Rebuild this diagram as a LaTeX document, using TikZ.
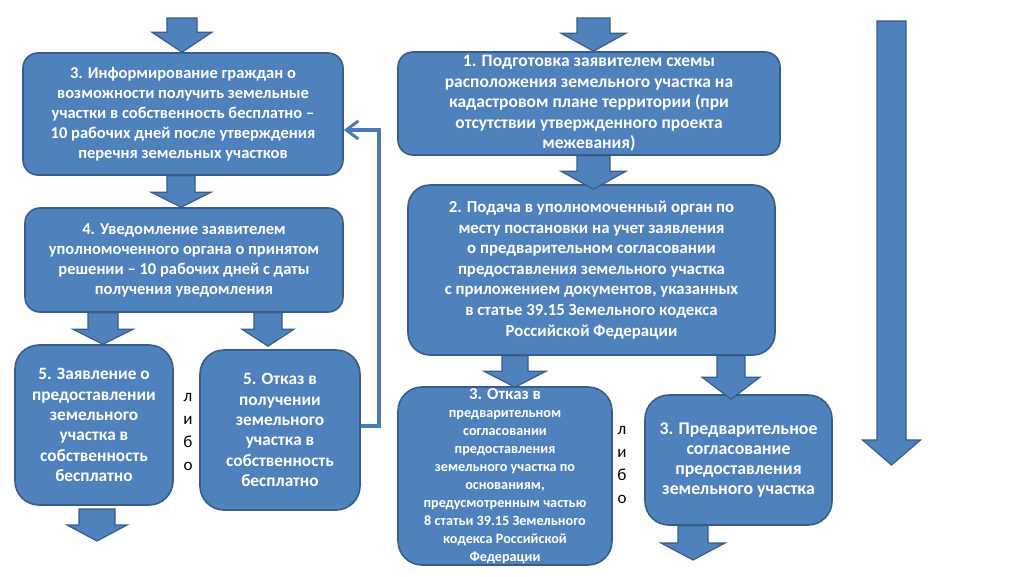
\documentclass[tikz,border=0pt]{standalone}
\usepackage{fontspec}
\setmainfont{Carlito}
\usetikzlibrary{arrows.meta,calc}
\definecolor{boxfill}{HTML}{4F81BD}
\definecolor{boxdraw}{HTML}{385D8A}
\definecolor{fbline}{HTML}{4A7BB7}
\newcommand\blockarrow[6]{%
  \draw[barrow] let \p1=#2, \p2=#3 in
    (#1pt-#4pt,\y1) -- (#1pt+#4pt,\y1) -- (#1pt+#4pt,\y2+#6pt) -- (#1pt+#5pt,\y2+#6pt)
    -- (#1pt,\y2) -- (#1pt-#5pt,\y2+#6pt) -- (#1pt-#4pt,\y2+#6pt) -- cycle;}
\begin{document}
\begin{tikzpicture}[x=1pt,y=-1pt,
  box/.style={draw=boxdraw, fill=boxfill, line width=1.6pt, rounded corners=15pt,
    text=white, font=\bfseries\fontsize{16.5}{20}\selectfont, align=center, inner sep=0pt},
  smallbox/.style={box, rounded corners=24pt},
  barrow/.style={draw=boxdraw, fill=boxfill, line width=1.2pt, line join=miter},
  fb/.style={draw=fbline, line width=3.5pt, -{Straight Barb[length=12pt,width=18pt,line width=3pt]}},
  lib/.style={font=\fontsize{17}{23}\selectfont, align=center, inner sep=0pt, text=black}]
\useasboundingbox (0,0) rectangle (1024,576);
\fill[white] (0,0) rectangle (1024,576);

% left column
\node[box, minimum width=320pt, minimum height=122pt] (A) at (183,114)
  {3. Информирование граждан о\\возможности получить земельные\\участки в собственность бесплатно –\\10 рабочих дней после утверждения\\перечня земельных участков};
\node[box, minimum width=318pt, minimum height=104pt] (B) at (184,260)
  {4. Уведомление заявителем\\уполномоченного органа о принятом\\решении – 10 рабочих дней с даты\\получения уведомления};
\node[smallbox, minimum width=158pt, minimum height=160pt, font=\bfseries\fontsize{17.3}{20.3}\selectfont] (C) at (94,425)
  {5. Заявление о\\предоставлении\\земельного\\участка в\\собственность\\бесплатно};
\node[smallbox, minimum width=160pt, minimum height=160pt, font=\bfseries\fontsize{17.3}{20.3}\selectfont] (D) at (280,430)
  {5. Отказ в\\получении\\земельного\\участка в\\собственность\\бесплатно};
\node[lib] (lib1) at (188,432) {л\\и\\б\\о};

% right column
\node[box, minimum width=382pt, minimum height=103pt, font=\bfseries\fontsize{17.5}{20.5}\selectfont] (E) at (589,103.5)
  {1. Подготовка заявителем схемы\\расположения земельного участка на\\кадастровом плане территории (при\\отсутствии утвержденного проекта\\межевания)};
\node[box, rounded corners=22pt, minimum width=367pt, minimum height=170pt, font=\bfseries\fontsize{16.8}{20.6}\selectfont] (F) at (591.5,270)
  {2. Подача в уполномоченный орган по\\месту постановки на учет заявления\\о предварительном согласовании\\предоставления земельного участка\\с приложением документов, указанных\\в статье 39.15 Земельного кодекса\\Российской Федерации};
\node[smallbox, minimum width=214pt, minimum height=178pt, font=\bfseries\fontsize{14.2}{18}\selectfont] (G) at (505,476)
  {{\fontsize{16.8}{18}\selectfont 3. Отказ в}\\предварительном\\согласовании\\предоставления\\земельного участка по\\основаниям,\\предусмотренным частью\\8 статьи 39.15 Земельного\\кодекса Российской\\Федерации};
\node[smallbox, minimum width=187pt, minimum height=130pt, font=\bfseries\fontsize{17.8}{20.2}\selectfont] (H) at (738.5,460)
  {3. Предварительное\\согласование\\предоставления\\земельного участка};
\node[lib] (lib2) at (622,465) {л\\и\\б\\о};

% free ends
\coordinate (topL) at (182,18);
\coordinate (topR) at (593.5,18);
\coordinate (belowC) at (97,509);
\coordinate (endC) at (97,541);
\coordinate (endH) at (693,560);
\coordinate (bigtop) at (891.5,21);
\coordinate (bigtip) at (891.5,465);

% block arrows
\blockarrow{182}{(topL)}{(A.north)}{15}{30}{20}
\blockarrow{181}{(A.south)}{(B.north)}{14}{30}{15}
\blockarrow{103}{(B.south)}{(C.north)}{15}{30}{15}
\blockarrow{268}{(B.south)}{([yshift=3pt]D.north)}{14}{26}{17}
\blockarrow{97}{(belowC)}{(endC)}{18}{30}{16}
\blockarrow{593.5}{(topR)}{(E.north)}{16.5}{32.5}{18}
\blockarrow{593.5}{(E.south)}{([yshift=-5pt]F.north)}{16.5}{32.5}{18}
\blockarrow{515}{(F.south)}{([yshift=-1pt]G.north)}{13}{31}{16}
\blockarrow{731}{(F.south)}{([yshift=-5pt]H.north)}{14}{29}{22}
\blockarrow{693}{(H.south)}{(endH)}{15}{32}{17}
\blockarrow{891.5}{(bigtop)}{(bigtip)}{14.5}{29}{25}

% feedback connector
\draw[fb] ([yshift=4pt]D.east) -- ++(18,0) |- ([yshift=-16pt]A.east);
\end{tikzpicture}
\end{document}
